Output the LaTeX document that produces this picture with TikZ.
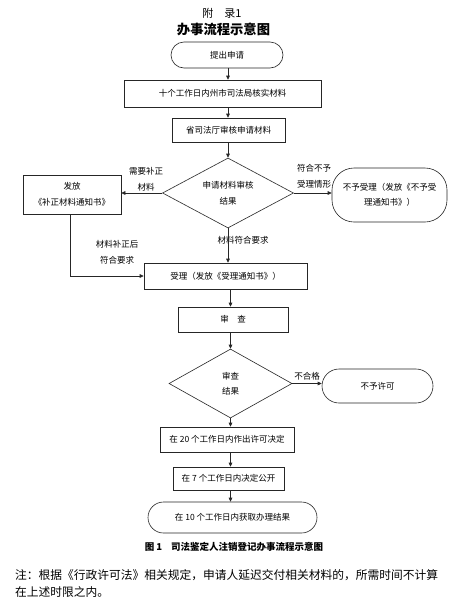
\documentclass[tikz,border=0pt]{standalone}
\usepackage{fontspec}
\setmainfont{Noto Sans CJK SC}
\usetikzlibrary{shapes.geometric,arrows.meta}
\begin{document}
\begin{tikzpicture}[x=1pt,y=-1pt,
  every node/.style={font=\fontsize{8.5}{15.5}\selectfont, inner sep=0pt},
  proc/.style={draw=black!85, line width=0.6pt, align=center},
  term/.style={proc, rounded corners=#1},
  dec/.style={draw=black!85, line width=0.6pt, diamond, align=center},
  lab/.style={align=center},
  arr/.style={draw=black!85, line width=0.6pt, -{Triangle[length=4pt,width=3.6pt]}}]
\fill[white] (0,0) rectangle (450,600);
\useasboundingbox (0,0) rectangle (450,600);
% titles
\node[font=\fontsize{11}{13}\selectfont] (t1) at (222,13) {附　录1};
\node[font=\fontsize{13.3}{15}\selectfont\bfseries] (t2) at (223.5,29) {办事流程示意图};
% nodes
\node[term=13, minimum width=112pt, minimum height=26pt] (start) at (227,55) {提出申请};
\node[proc, minimum width=197pt, minimum height=27pt] (b2) at (222.5,93.5) {十个工作日内州市司法局核实材料};
\node[proc, minimum width=113pt, minimum height=24pt] (b3) at (228.5,130) {省司法厅审核申请材料};
\node[dec, minimum width=131pt, minimum height=70pt, aspect=1.87] (d1) at (228,193) {申请材料审核\\结果};
\node[proc, minimum width=98pt, minimum height=39pt] (L) at (72,194.5) {发放\\《补正材料通知书》};
\node[term=22, minimum width=115pt, minimum height=54pt] (R) at (389.5,195) {不予受理（发放《不予受\\理通知书》）};
\node[proc, minimum width=163pt, minimum height=26pt] (b4) at (225.5,276) {受理（发放《受理通知书》）};
\node[proc, minimum width=110pt, minimum height=25pt] (b5) at (233,319.5) {审　查};
\node[dec, minimum width=123pt, minimum height=69pt, aspect=1.78] (d2) at (230.5,383.5) {审查\\结果};
\node[term=17, minimum width=111pt, minimum height=34pt] (N) at (377.5,386) {不予许可};
\node[proc, minimum width=134pt, minimum height=25pt] (b6) at (227,439.5) {在 20 个工作日内作出许可决定};
\node[proc, minimum width=111pt, minimum height=23pt] (b7) at (228.5,478.5) {在 7 个工作日内决定公开};
\node[term=15.5, minimum width=169pt, minimum height=31pt] (E) at (232.5,517.5) {在 10 个工作日内获取办理结果};
% labels
\node[lab] (l1) at (146,179.5) {需要补正\\材料};
\node[lab] (l2) at (314,176.5) {符合不予\\受理情形};
\node[lab] (l3) at (117,252.5) {材料补正后\\符合要求};
\node[lab] (l4) at (243,240) {材料符合要求};
\node[lab] (l5) at (307,376) {不合格};
% connectors
\coordinate (col) at (228,0);
\coordinate (colb) at (230.5,0);
\draw[arr] (start.south -| col) -- (b2.north -| col);
\draw[arr] (b2.south -| col) -- (b3.north -| col);
\draw[arr] (b3.south -| col) -- (d1.north);
\draw[arr] (d1.west) -- (d1.west -| L.east);
\draw[arr] (d1.east) -- (d1.east -| R.west);
\draw[arr] (d1.south) -- (d1.south |- b4.north);
\draw[arr] ([xshift=-2pt]L.south) |- (b4.west);
\draw[arr] (b4.south -| colb) -- (b5.north -| colb);
\draw[arr] (b5.south -| colb) -- (d2.north);
\draw[arr] (d2.east) -- (d2.east -| N.west);
\draw[arr] (d2.south) -- (d2.south |- b6.north);
\draw[arr] (b6.south -| colb) -- (b7.north -| colb);
\draw[arr] (b7.south -| colb) -- (E.north -| colb);
% caption and note
\node[font=\fontsize{9.5}{11}\selectfont\bfseries] (cap) at (234,547) {图 1\hspace{9pt}司法鉴定人注销登记办事流程示意图};
\node[font=\fontsize{11.75}{17}\selectfont, anchor=base west] (n1) at (15,579.5) {注：根据《行政许可法》相关规定，申请人延迟交付相关材料的，所需时间不计算};
\node[font=\fontsize{11.75}{17}\selectfont, anchor=base west] (n2) at (15,596.5) {在上述时限之内。};
\end{tikzpicture}
\end{document}
